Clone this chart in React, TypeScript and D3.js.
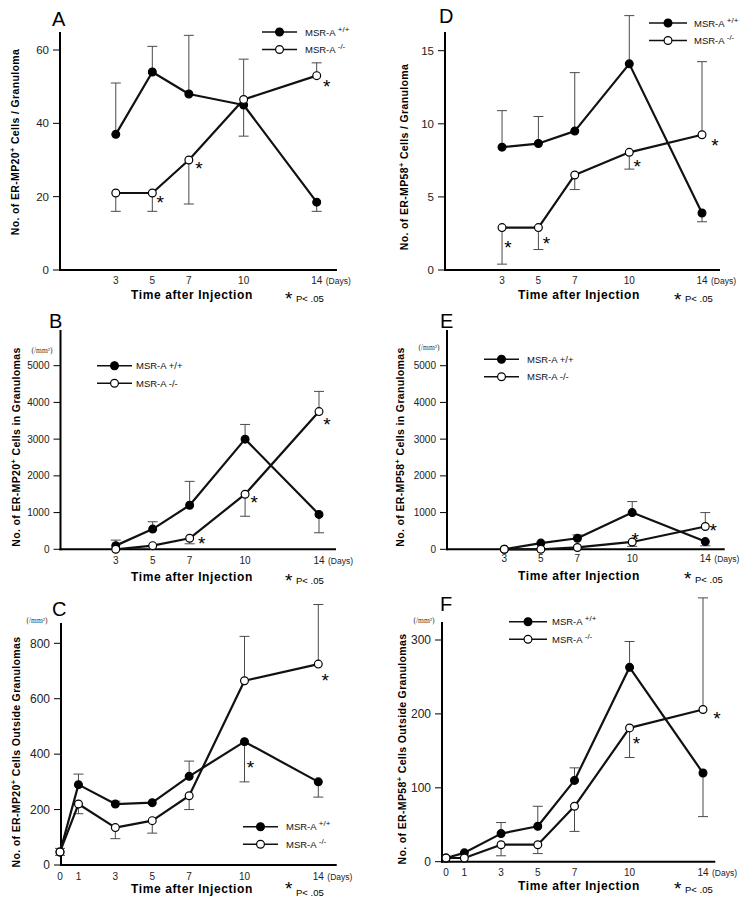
import React, { useEffect, useRef } from "react";
import * as d3 from "d3";

// days after injection
const daysShort = [3, 5, 7, 10, 14];
const daysLong = [0, 1, 3, 5, 7, 10, 14];

// A: ER-MP20+ cells / granuloma
const aWild = [37, 54, 48, 45, 18.5];
const aWildErr = [51, 61, 64, 57.5, 16];
const aKnock = [21, 21, 30, 46.5, 53];
const aKnockErr = [16, 16, 18, 36.5, 56.5];

// D: ER-MP58+ cells / granuloma
const dWild = [8.4, 8.65, 9.5, 14.1, 3.9];
const dWildErr = [10.9, 10.5, 13.5, 17.4, 3.3];
const dKnock = [2.9, 2.9, 6.5, 8.05, 9.25];
const dKnockErr = [0.4, 1.4, 5.5, 6.9, 14.25];

// B: ER-MP20+ cells in granulomas (/mm2)
const bWild = [100, 550, 1200, 3000, 950];
const bWildErr = [250, 750, 1850, 3400, 450];
const bKnock = [0, 100, 300, 1500, 3750];
const bKnockErr = [null, null, 150, 900, 4300];

// E: ER-MP58+ cells in granulomas (/mm2)
const eWild = [0, 170, 300, 1000, 210];
const eWildErr = [null, null, 390, 1300, 95];
const eKnock = [0, 0, 50, 200, 620];
const eKnockErr = [null, null, null, 80, 1000];

// C: ER-MP20+ cells outside granulomas (/mm2)
const cWild = [47, 290, 220, 225, 320, 445, 300];
const cWildErr = [35, 328, 230, null, 375, 300, 245];
const cKnock = [47, 220, 135, 160, 250, 665, 725];
const cKnockErr = [60, 185, 95, 115, 200, 825, 940];

// F: ER-MP58+ cells outside granulomas (/mm2)
const fWild = [5, 12, 38, 48, 110, 263, 120];
const fWildErr = [null, null, 53, 75, 127, 298, 61];
const fKnock = [5, 5, 23, 23, 75, 181, 206];
const fKnockErr = [null, null, 8, 11, 41, 141, 357];

const ticksA = [0, 20, 40, 60];
const ticksD = [0, 5, 10, 15];
const ticksBE = [0, 1000, 2000, 3000, 4000, 5000];
const ticksC = [0, 200, 400, 600, 800];
const ticksF = [0, 100, 200, 300];

const panels = [
  {
    letter: "A", lx: 52, ly: 26, days: daysShort,
    wild: aWild, wildErr: aWildErr, knock: aKnock, knockErr: aKnockErr,
    ax: 60, ay: 270, atop: 32, aright: 337, x0: 61, x14: 316.7,
    yMax: 60, yTop: 50, ticks: ticksA, tickSize: 11.5,
    title: ["No. of ER-MP20", " Cells / Granuloma"], tx: 19, tcy: 142,
    xlabY: 284, bottomY: 299, sy: 305, bx: 192, px: 290, unit: null,
    legend: { x1: 262, x2: 297, y: 32, tx: 305, sup: true },
    stars: [["k", 1, 8, 5], ["k", 2, 10, 4], ["k", 4, 10, 6]],
  },
  {
    letter: "D", lx: 439, ly: 23, days: daysShort,
    wild: dWild, wildErr: dWildErr, knock: dKnock, knockErr: dKnockErr,
    ax: 445, ay: 270, atop: 32, aright: 720, x0: 447.5, x14: 702,
    yMax: 15, yTop: 50.7, ticks: ticksD, tickSize: 11.5,
    title: ["No. of ER-MP58", " Cells / Granuloma"], tx: 408, tcy: 157,
    xlabY: 284, bottomY: 299, sy: 306, bx: 579, px: 679, unit: null,
    legend: { x1: 649, x2: 687, y: 23, tx: 694, sup: true },
    stars: [["k", 0, 6, 15], ["k", 1, 8, 11], ["k", 3, 8, 10], ["k", 4, 13, 6]],
  },
  {
    letter: "B", lx: 49, ly: 328, days: daysShort,
    wild: bWild, wildErr: bWildErr, knock: bKnock, knockErr: bKnockErr,
    ax: 60.5, ay: 549.3, atop: 330, aright: 336, x0: 60.3, x14: 319,
    yMax: 5000, yTop: 365.7, ticks: ticksBE, tickSize: 10,
    title: ["No. of ER-MP20", " Cells in Granulomas"], tx: 20, tcy: 447,
    xlabY: 563.5, bottomY: 580.5, sy: 587, bx: 192, px: 290, unit: [42, 353],
    legend: { x1: 97, x2: 132, y: 365.7, tx: 136, sup: false },
    stars: [["k", 2, 12, 1], ["k", 3, 9, 4], ["k", 4, 8, 8]],
  },
  {
    letter: "E", lx: 440, ly: 328, days: daysShort,
    wild: eWild, wildErr: eWildErr, knock: eKnock, knockErr: eKnockErr,
    ax: 447, ay: 549.3, atop: 330, aright: 724.7, x0: 449.5, x14: 705.3,
    yMax: 5000, yTop: 365.7, ticks: ticksBE, tickSize: 10,
    title: ["No. of ER-MP58", " Cells in Granulomas"], tx: 404, tcy: 447,
    xlabY: 562, bottomY: 580, sy: 585, bx: 579, px: 689, unit: [429, 350],
    legend: { x1: 484, x2: 519, y: 359.3, tx: 527, sup: false },
    stars: [["k", 3, 3, -7], ["k", 4, 8, -1]],
  },
  {
    letter: "C", lx: 52, ly: 616, days: daysLong,
    wild: cWild, wildErr: cWildErr, knock: cKnock, knockErr: cKnockErr,
    ax: 61, ay: 865, atop: 623, aright: 336.7, x0: 60, x14: 318.3,
    yMax: 800, yTop: 643.3, ticks: ticksC, tickSize: 12,
    title: ["No. of ER-MP20", " Cells Outside Granulomas"], tx: 20, tcy: 752,
    xlabY: 879.5, bottomY: 893, sy: 894.5, bx: 192, px: 290, unit: [37, 623],
    legend: { x1: 243, x2: 278, y: 826.7, tx: 286, sup: true },
    stars: [["w", 5, 6, 21], ["k", 6, 7, 12]],
  },
  {
    letter: "F", lx: 440, ly: 611, days: daysLong,
    wild: fWild, wildErr: fWildErr, knock: fKnock, knockErr: fKnockErr,
    ax: 442, ay: 861.7, atop: 622, aright: 715.3, x0: 446, x14: 703,
    yMax: 300, yTop: 640, ticks: ticksF, tickSize: 12,
    title: ["No. of ER-MP58", " Cells Outside Granulomas"], tx: 406, tcy: 749,
    xlabY: 875.5, bottomY: 890, sy: 895, bx: 579, px: 679, unit: [424, 623],
    legend: { x1: 509, x2: 547, y: 621.7, tx: 552, sup: true },
    stars: [["k", 5, 7, 11], ["k", 6, 14, 5]],
  },
];

const sans = "'Liberation Sans', Arial, sans-serif";

function drawPanel(svg: any, p: any) {
  const g = svg.append("g");
  const x = d3.scaleLinear().domain([0, 14]).range([p.x0, p.x14]);
  const y = d3.scaleLinear().domain([0, p.yMax]).range([p.ay, p.yTop]);

  // panel letter
  g.append("text").attr("x", p.lx).attr("y", p.ly)
    .attr("font-family", sans).attr("font-size", 20).text(p.letter);

  // axes
  g.append("line").attr("x1", p.ax).attr("x2", p.ax).attr("y1", p.atop).attr("y2", p.ay + 1)
    .attr("stroke", "#000").attr("stroke-width", 2);
  g.append("line").attr("x1", p.ax - 1).attr("x2", p.aright).attr("y1", p.ay).attr("y2", p.ay)
    .attr("stroke", "#000").attr("stroke-width", 2);

  p.ticks.forEach((t: number) => {
    g.append("line").attr("x1", p.ax - 7).attr("x2", p.ax).attr("y1", y(t)).attr("y2", y(t))
      .attr("stroke", "#000").attr("stroke-width", 1);
    g.append("text").attr("x", p.ax - 11).attr("y", y(t)).attr("dy", "0.36em")
      .attr("text-anchor", "end").attr("font-family", sans).attr("font-size", p.tickSize)
      .attr("fill", "#222").text(t);
  });

  if (p.unit) {
    g.append("text").attr("x", p.unit[0]).attr("y", p.unit[1]).attr("text-anchor", "middle")
      .attr("font-family", "'Liberation Serif', serif").attr("font-size", 7.5).attr("fill", "#333")
      .text("(/mm²)");
  }

  // x tick labels
  p.days.forEach((d: number) => {
    g.append("text").attr("x", x(d)).attr("y", p.xlabY).attr("text-anchor", "middle")
      .attr("font-family", sans).attr("font-size", 10).attr("fill", "#222").text(d);
  });
  g.append("text").attr("x", x(14) + 9).attr("y", p.xlabY).attr("font-family", sans)
    .attr("font-size", 8.5).attr("fill", "#222").text("(Days)");

  // x title and significance note
  g.append("text").attr("x", p.bx).attr("y", p.bottomY).attr("text-anchor", "middle")
    .attr("font-family", sans).attr("font-weight", "bold").attr("font-size", 12)
    .attr("letter-spacing", 0.6).text("Time after Injection");
  g.append("text").attr("x", p.px - 5).attr("y", p.sy).attr("font-family", sans)
    .attr("font-size", 19).text("*");
  g.append("text").attr("x", p.px + 6).attr("y", p.bottomY + 3).attr("font-family", sans)
    .attr("font-size", 9.5).text("P< .05");

  // y title
  const yt = g.append("text")
    .attr("transform", `translate(${p.tx},${p.tcy}) rotate(-90)`)
    .attr("text-anchor", "middle").attr("font-family", sans).attr("font-weight", "bold")
    .attr("font-size", 10.5).attr("letter-spacing", 0.35);
  yt.append("tspan").text(p.title[0]);
  yt.append("tspan").attr("dy", -4).attr("font-size", 7.5).text("+");
  yt.append("tspan").attr("dy", 4).text(p.title[1]);

  const series = [
    { vals: p.wild, err: p.wildErr, fill: "#000" },
    { vals: p.knock, err: p.knockErr, fill: "#fff" },
  ];

  // error bars
  series.forEach((s) => {
    s.err.forEach((e: number | null, i: number) => {
      if (e == null) return;
      const cx = x(p.days[i]);
      g.append("line").attr("x1", cx).attr("x2", cx).attr("y1", y(s.vals[i])).attr("y2", y(e))
        .attr("stroke", "#4a4a4a").attr("stroke-width", 1);
      g.append("line").attr("x1", cx - 5).attr("x2", cx + 5).attr("y1", y(e)).attr("y2", y(e))
        .attr("stroke", "#4a4a4a").attr("stroke-width", 1);
    });
  });

  const line = d3.line<number>().x((d, i) => x(p.days[i])).y((d) => y(d));
  series.forEach((s) => {
    g.append("path").attr("d", line(s.vals)).attr("fill", "none")
      .attr("stroke", "#111").attr("stroke-width", 2.2).attr("stroke-linejoin", "round");
  });
  series.forEach((s) => {
    g.selectAll(null).data(s.vals).enter().append("circle")
      .attr("cx", (d: number, i: number) => x(p.days[i])).attr("cy", (d: number) => y(d))
      .attr("r", 3.9).attr("fill", s.fill).attr("stroke", "#000").attr("stroke-width", 1.2);
  });

  // significance asterisks
  p.stars.forEach((st: any) => {
    const vals = st[0] === "w" ? p.wild : p.knock;
    g.append("text").attr("x", x(p.days[st[1]]) + st[2]).attr("y", y(vals[st[1]]) + st[3] + 11)
      .attr("text-anchor", "middle").attr("font-family", sans).attr("font-size", 19).text("*");
  });

  // legend
  const L = p.legend;
  const labels = p.legend.sup ? [["MSR-A ", "+/+"], ["MSR-A ", "-/-"]] : [["MSR-A +/+", ""], ["MSR-A -/-", ""]];
  [0, 1].forEach((k) => {
    const ly = L.y + k * 17.5;
    g.append("line").attr("x1", L.x1).attr("x2", L.x2).attr("y1", ly).attr("y2", ly)
      .attr("stroke", "#111").attr("stroke-width", 1.6);
    g.append("circle").attr("cx", (L.x1 + L.x2) / 2).attr("cy", ly).attr("r", 3.9)
      .attr("fill", k === 0 ? "#000" : "#fff").attr("stroke", "#000").attr("stroke-width", 1.2);
    const t = g.append("text").attr("x", L.tx).attr("y", ly + 3.5).attr("font-family", sans)
      .attr("font-size", 9.5).attr("fill", "#111");
    t.append("tspan").text(labels[k][0]);
    if (labels[k][1]) t.append("tspan").attr("dy", -4).attr("font-size", 8).text(labels[k][1]);
  });
}

export default function App() {
  const ref = useRef<SVGSVGElement>(null);

  useEffect(() => {
    const svg = d3.select(ref.current);
    svg.selectAll("*").remove();
    panels.forEach((p) => drawPanel(svg, p));
  }, []);

  return (
    <div style={{ position: "absolute", left: 0, top: 0 }}>
      <svg ref={ref} width={745} height={900} style={{ display: "block", background: "#fff" }} />
    </div>
  );
}
